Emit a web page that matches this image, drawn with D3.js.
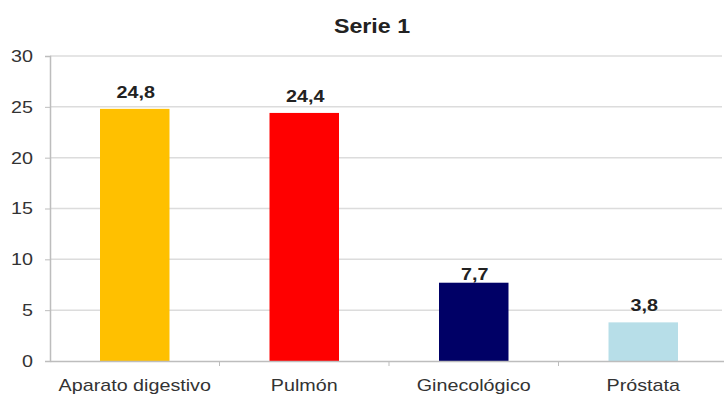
<!DOCTYPE html>
<html><head><meta charset="utf-8">
<script src="https://cdn.jsdelivr.net/npm/d3@7"></script>
<style>body{margin:0;background:#fff}svg{display:block}</style>
</head><body>
<script>
const categories = ["Aparato digestivo", "Pulmón", "Ginecológico", "Próstata"];
const values = [24.8, 24.4, 7.7, 3.8];
const labels = ["24,8", "24,4", "7,7", "3,8"];
const colors = ["#FFC000", "#FF0000", "#000066", "#B7DEE8"];
const yTicks = [0, 5, 10, 15, 20, 25, 30];
const title = "Serie 1";

const W = 724, H = 397;
const svg = d3.select("body").append("svg").attr("width", W).attr("height", H);
const x = d3.scaleBand().domain(categories).range([50, 728]).paddingInner(0.59).paddingOuter(0.295);
const y = d3.scaleLinear().domain([0, 30]).range([361, 56]);
const font = "Arial, 'Liberation Sans', sans-serif";
function stretch(sel, k = 1.16) {
  sel.each(function () {
    const l = this.getComputedTextLength();
    this.setAttribute("textLength", l * k);
    this.setAttribute("lengthAdjust", "spacingAndGlyphs");
  });
}
// label gap above bars (the 7,7 label sits closer to its bar in the original)
function labelGap(i) { return categories[i] === "Ginecológico" ? 3 : 11; }

// gridlines
svg.append("g").selectAll("line").data(yTicks.filter(d => d > 0)).join("line")
  .attr("x1", 50).attr("x2", 722).attr("y1", d => y(d)).attr("y2", d => y(d))
  .attr("stroke", "#dcdcdc").attr("stroke-width", 1.5);

// y axis
const ya = svg.append("g").attr("transform", "translate(50,0)")
  .call(d3.axisLeft(y).tickValues(yTicks).tickSize(5).tickPadding(12));
ya.select(".domain").attr("stroke", "#bdbdbd").attr("stroke-width", 1.5);
ya.selectAll(".tick line").attr("stroke", "#bdbdbd");
ya.selectAll("text").attr("font-family", font).attr("font-size", 17).attr("fill", "#333").call(stretch);

// bars
svg.append("g").selectAll("rect").data(values).join("rect")
  .attr("x", (d, i) => x(categories[i])).attr("width", x.bandwidth())
  .attr("y", d => y(d)).attr("height", d => y(0) - y(d))
  .attr("fill", (d, i) => colors[i]);

// x axis
const xa = svg.append("g").attr("transform", `translate(0,${y(0)})`)
  .call(d3.axisBottom(x).tickSize(0).tickPadding(0));
xa.select(".domain").attr("stroke", "#bdbdbd").attr("stroke-width", 1.5);
xa.selectAll("text").attr("dy", null).attr("y", 30)
  .attr("font-family", font).attr("font-size", 17).attr("fill", "#333").call(stretch);
// category separator ticks
const step = x.step();
svg.append("g").selectAll("line").data(categories.slice(1)).join("line")
  .attr("x1", d => x(d) - x.paddingInner() * step / 2).attr("x2", d => x(d) - x.paddingInner() * step / 2)
  .attr("y1", y(0)).attr("y2", y(0) + 5).attr("stroke", "#bdbdbd");

// value labels
svg.append("g").selectAll("text").data(values).join("text")
  .attr("x", (d, i) => x(categories[i]) + x.bandwidth() / 2 + 1).attr("y", (d, i) => y(d) - labelGap(i))
  .attr("text-anchor", "middle").attr("font-family", font).attr("font-size", 17)
  .attr("font-weight", "bold").attr("fill", "#222").text((d, i) => labels[i]).call(stretch);

// title
svg.append("text").attr("x", 372).attr("y", 33).attr("text-anchor", "middle")
  .attr("font-family", font).attr("font-size", 20).attr("font-weight", "bold").attr("fill", "#222").text(title).call(stretch);
</script>
</body></html>
